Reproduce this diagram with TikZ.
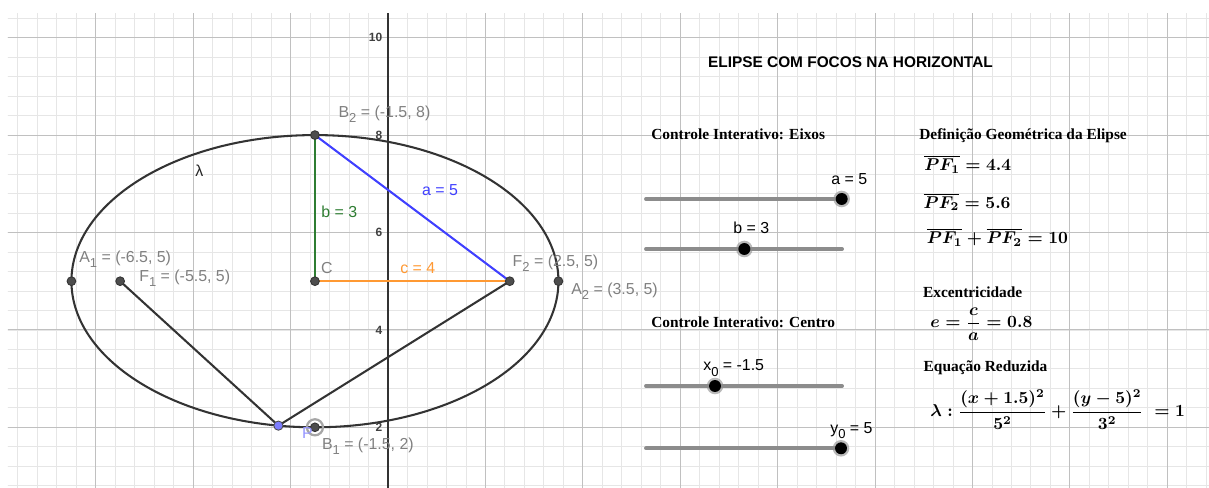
\documentclass[tikz,border=0pt]{standalone}
\usepackage[no-math]{fontspec}
\setmainfont{Liberation Serif}
\setsansfont{Liberation Sans}
\usetikzlibrary{calc}
\definecolor{ptfill}{RGB}{77,77,77}
\definecolor{curve}{RGB}{51,51,51}
\definecolor{lblgray}{RGB}{128,128,128}
\definecolor{gmajor}{RGB}{192,192,192}
\definecolor{gminor}{RGB}{230,230,230}
\definecolor{segblue}{RGB}{64,64,255}
\definecolor{seggreen}{RGB}{46,125,50}
\definecolor{segorange}{RGB}{255,153,51}
\definecolor{pfill}{RGB}{125,125,255}
\definecolor{plabel}{RGB}{150,150,255}
\definecolor{sliderc}{RGB}{140,140,140}
\newcommand\gsub[1]{\raisebox{-0.32em}{\fontsize{7.6}{8}\selectfont #1}}
\tikzset{
  lbl/.style={anchor=base west, inner sep=0pt, font=\sffamily\fontsize{9.3}{11}\selectfont},
  glbl/.style={lbl, text=lblgray},
  ticklbl/.style={anchor=east, inner sep=0pt, font=\sffamily\bfseries\fontsize{7}{8}\selectfont, text=black!75},
  heading/.style={anchor=base west, inner sep=0pt, font=\rmfamily\bfseries\fontsize{9}{11}\selectfont},
  mathlbl/.style={anchor=base west, inner sep=0pt, font=\fontsize{10.1}{13}\selectfont},
  curveline/.style={draw=curve, line width=1.2pt},
  seg/.style={line width=1.2pt},
  dot/.style={circle, fill=ptfill, draw=black!80, line width=0.5pt, inner sep=0pt, minimum size=0.18cm},
  pdot/.style={circle, fill=pfill, draw=black!70, line width=0.5pt, inner sep=0pt, minimum size=0.19cm},
  sliderbar/.style={draw=sliderc, line width=2.3pt, line cap=round},
  halo/.style={circle, fill=black!45, opacity=0.6, inner sep=0pt, minimum size=0.34cm},
  knob/.style={circle, fill=black, inner sep=0pt, minimum size=0.245cm},
}
\begin{document}
\begin{tikzpicture}
\useasboundingbox[fill=white] (-7.967,0.774) rectangle (16.858,10.774);
% grid
\begin{scope}
\clip (-7.803,0.774) rectangle (16.858,10.487);
\draw[gminor, line width=0.45pt, step=0.4] (-8.4,0.4) grid (17.2,10.8);
\draw[gmajor, line width=0.6pt, step=2] (-8.4,0.4) grid (17.2,10.8);
\draw[black!80, line width=0.6pt] (0,0.5) -- (0,10.8);
\end{scope}
% tick labels
\foreach \v in {2,4,6,8,10} \node[ticklbl] (tick\v) at (-0.11,\v) {\v};

% points
\coordinate (C) at (-1.5,5);
\coordinate (B2) at (-1.5,8);
\coordinate (B1) at (-1.5,2);
\coordinate (A1) at (-6.5,5);
\coordinate (A2) at (3.5,5);
\coordinate (F1) at (-5.5,5);
\coordinate (F2) at (2.5,5);
\coordinate (P) at (-2.25,2.034);

% ellipse
\draw[curveline] (C) ellipse [x radius=5, y radius=3];
% segments
\draw[seg, draw=seggreen] (B2) -- (C);
\draw[seg, draw=segorange] (C) -- (F2);
\draw[seg, draw=segblue] (B2) -- (F2);
\draw[seg, draw=curve] (F1) -- (P) -- (F2);

% point markers
\node[circle, draw=black!35, line width=1.3pt, inner sep=0pt, minimum size=0.33cm] (B1ring) at (B1) {};
\foreach \p in {C,B2,B1,A1,A2,F1,F2} \node[dot] (dot\p) at (\p) {};
\node[pdot] (dotP) at (P) {};

% labels
\node[glbl] (lB2) at (-1.021,8.366) {B\gsub{2} = (-1.5, 8)};
\node[glbl] (lA1) at (-6.345,5.388) {A\gsub{1} = (-6.5, 5)};
\node[glbl] (lF1) at (-5.113,4.990) {F\gsub{1} = (-5.5, 5)};
\node[glbl] (lC) at (-1.382,5.148) {C};
\node[glbl] (lF2) at (2.553,5.298) {F\gsub{2} = (2.5, 5)};
\node[glbl] (lA2) at (3.758,4.731) {A\gsub{2} = (3.5, 5)};
\node[glbl] (lB1) at (-1.362,1.554) {B\gsub{1} = (-1.5, 2)};
\node[lbl, text=plabel] (lP) at (-1.772,1.774) {P};
\node[lbl, text=seggreen] (lb) at (-1.376,6.312) {b = 3};
\node[lbl, text=segorange] (lc) at (0.246,5.148) {c = 4};
\node[lbl, text=segblue] (la) at (0.692,6.756) {a = 5};
\node[lbl, text=black!85] (llam) at (-3.963,7.146) {λ};

% title
\node[anchor=base west, inner sep=0pt, font=\sffamily\bfseries\fontsize{9}{11}\selectfont] (title) at (6.565,9.392) {ELIPSE COM FOCOS NA HORIZONTAL};

% headings
\node[heading] (h1) at (5.400,7.919) {Controle Interativo: Eixos};
\node[heading] (h2) at (5.400,4.039) {Controle Interativo: Centro};
\node[heading] (h3) at (10.903,7.914) {Definição Geométrica da Elipse};
\node[heading] (h4) at (10.979,4.669) {Excentricidade};
\node[heading] (h5) at (10.992,3.142) {Equação Reduzida};

% sliders
\coordinate (sa0) at (5.298,6.688); \coordinate (sa1) at (9.322,6.688);
\coordinate (sb0) at (5.298,5.661); \coordinate (sb1) at (9.322,5.661);
\coordinate (sx0) at (5.298,2.848); \coordinate (sx1) at (9.322,2.848);
\coordinate (sy0) at (5.298,1.569); \coordinate (sy1) at (9.322,1.569);
\draw[sliderbar] (sa0) -- (sa1);
\draw[sliderbar] (sb0) -- (sb1);
\draw[sliderbar] (sx0) -- (sx1);
\draw[sliderbar] (sy0) -- (sy1);
\foreach \n/\x/\y in {ka/9.316/6.688, kb/7.317/5.661, kx/6.715/2.848, ky/9.302/1.569}{
  \node[halo] (\n h) at (\x,\y) {};
  \node[knob] (\n) at (\x,\y) {};
}
\node[lbl] (sla) at (9.097,6.992) {a = 5};
\node[lbl] (slb) at (7.084,5.983) {b = 3};
\node[lbl] (slx) at (6.468,3.156) {x\gsub{0} = -1.5};
\node[lbl] (sly) at (9.076,1.877) {y\gsub{0} = 5};

% math
\node[mathlbl] (m1) at (11.006,7.263) {{\boldmath$\overline{PF_1}=4.4$}};
\node[mathlbl] (m2) at (10.992,6.497) {{\boldmath$\overline{PF_2}=5.6$}};
\node[mathlbl] (m3) at (11.06,5.764) {{\boldmath$\overline{PF_1}+\overline{PF_2}=10$}};
\node[mathlbl] (m4) at (11.129,4.04) {{\boldmath$e=\displaystyle\frac{c}{a}=0.8$}};
\node[mathlbl] (m5) at (11.129,2.218) {{\boldmath$\lambda:\displaystyle\frac{(x+1.5)^2}{5^2}+\frac{(y-5)^2}{3^2}\;=1$}};
\end{tikzpicture}
\end{document}
